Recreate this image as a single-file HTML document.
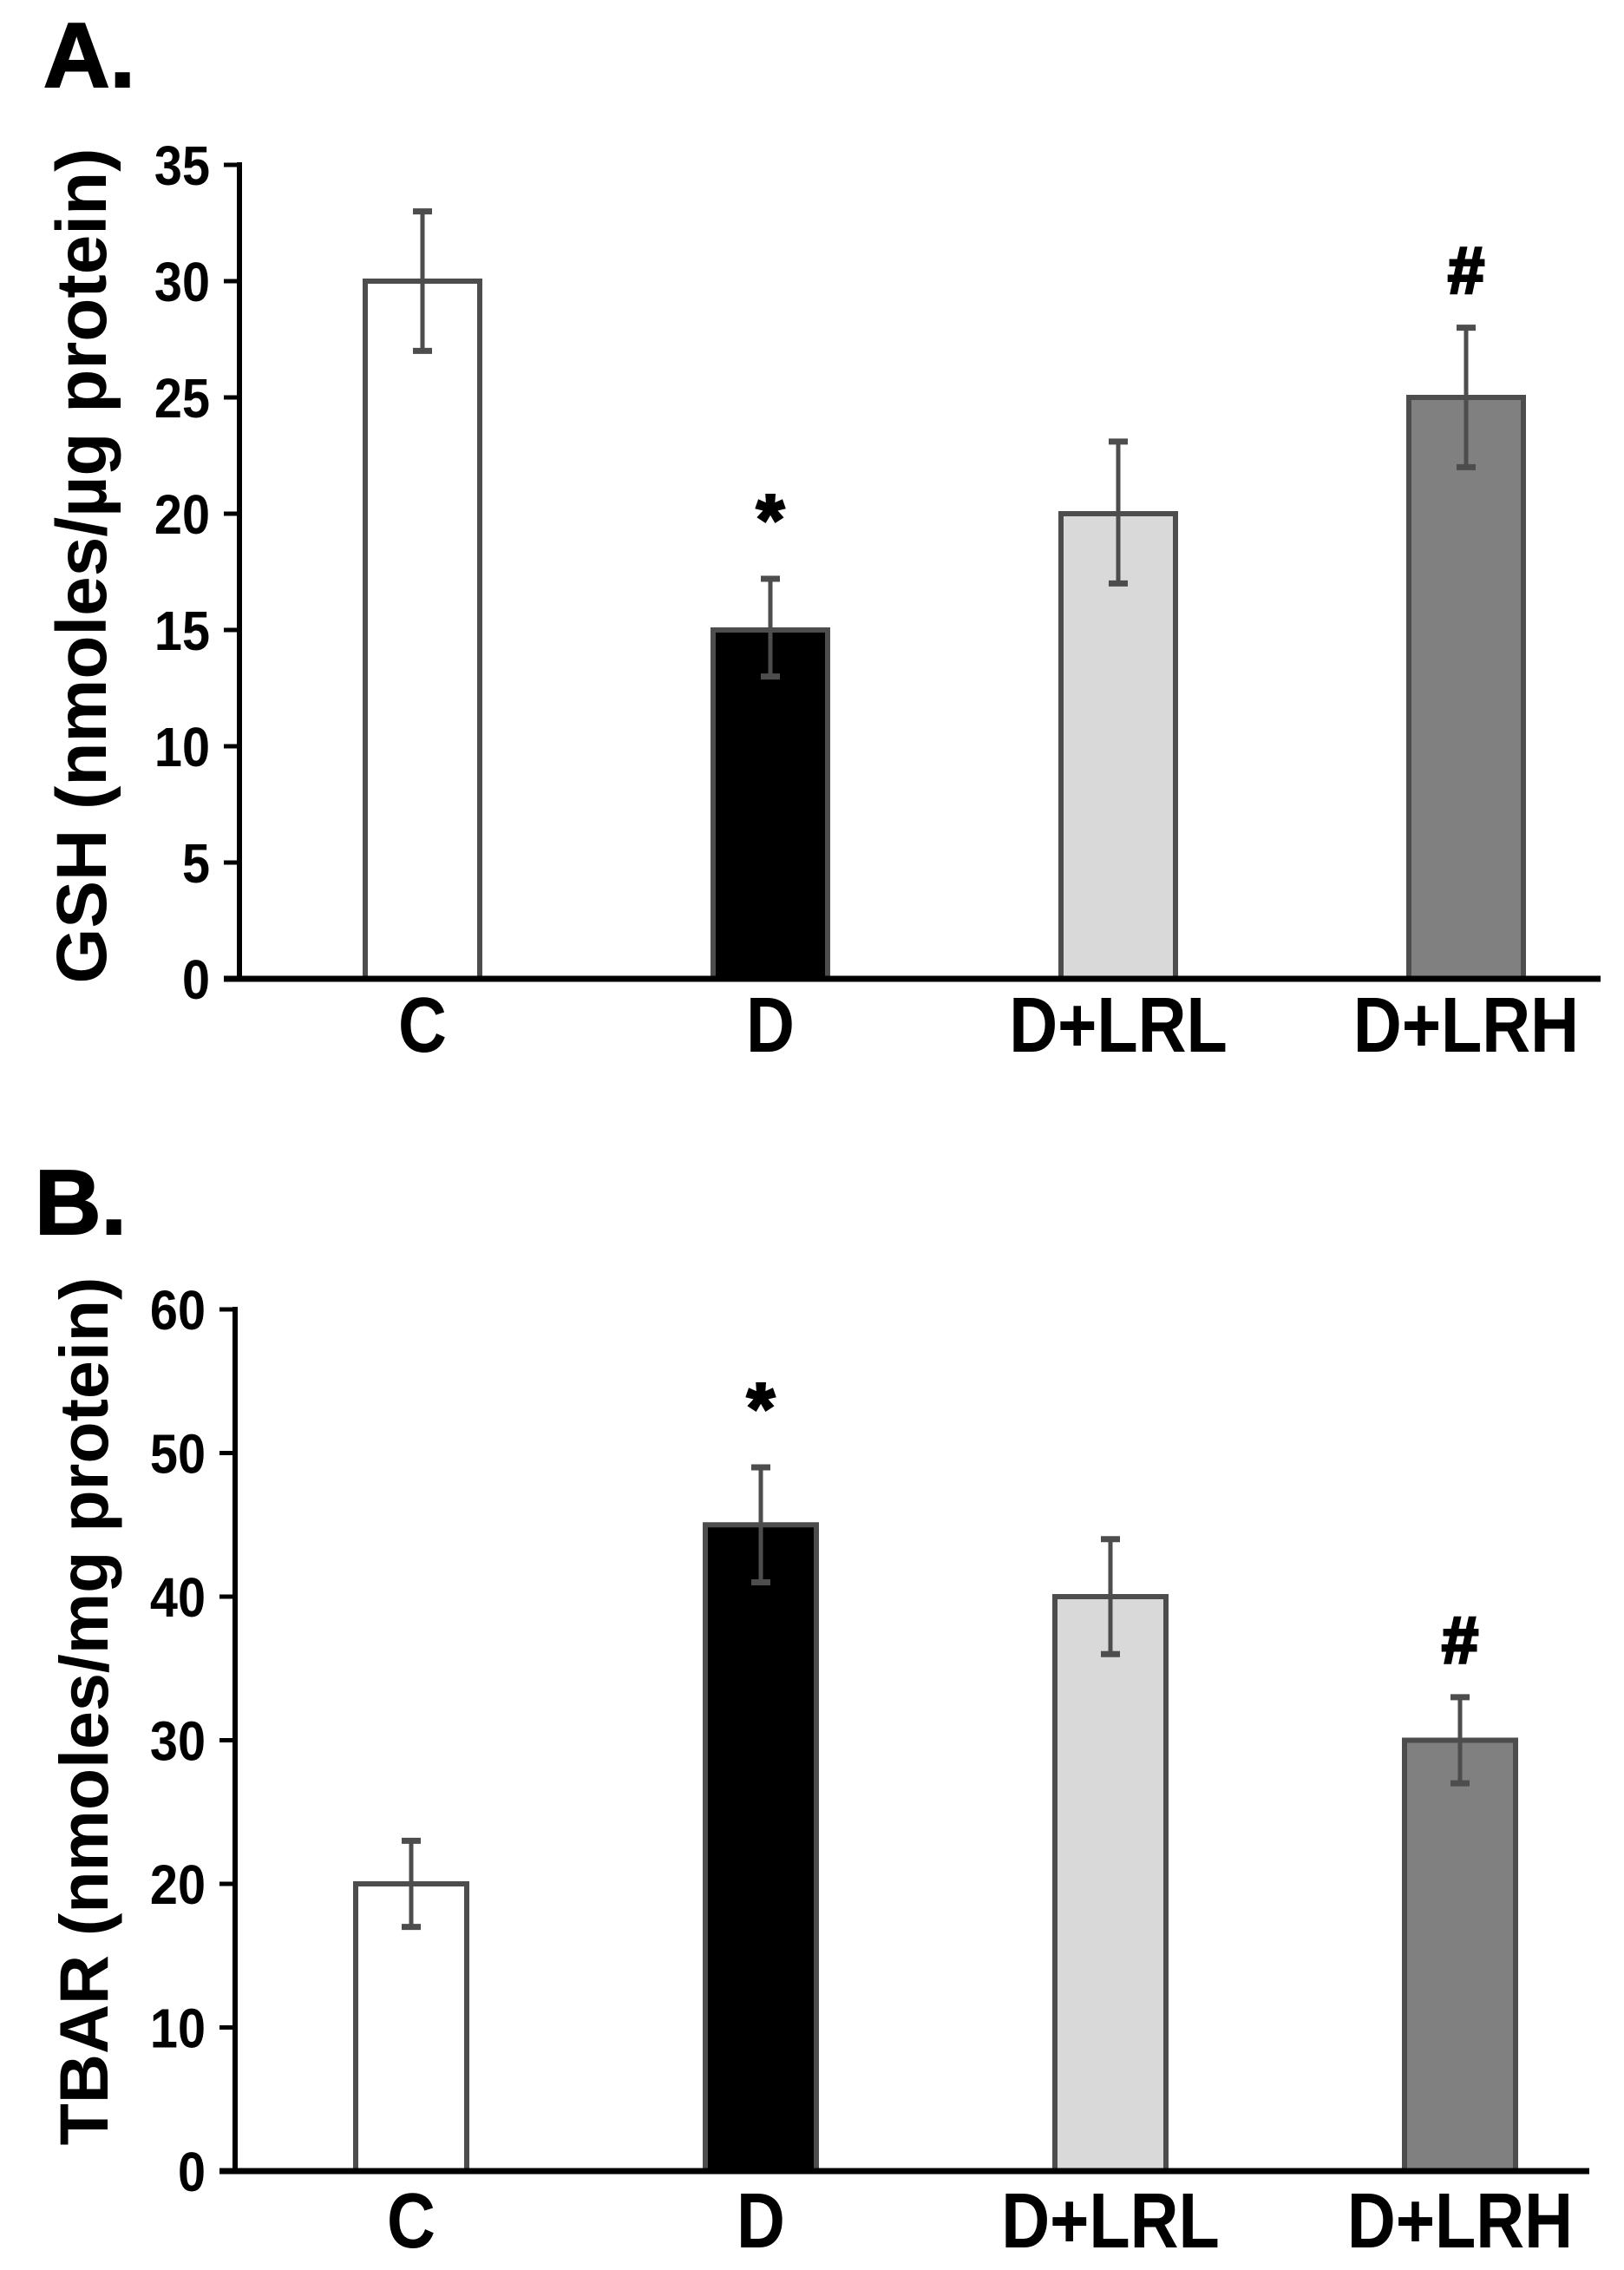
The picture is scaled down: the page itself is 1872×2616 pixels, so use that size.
<!DOCTYPE html>
<html><head><meta charset="utf-8"><style>
html,body{margin:0;padding:0;background:#fff;}
svg{display:block;font-family:"Liberation Sans",Arial,sans-serif;font-weight:bold;}
</style></head><body>
<svg id="fig" width="1872" height="2616" viewBox="0 0 1872 2616" xmlns="http://www.w3.org/2000/svg">
<rect width="1872" height="2616" fill="#fff"/>
</svg>
<script>
const categories = ["C", "D", "D+LRL", "D+LRH"];
const gshValues = [30, 15, 20, 25];
const gshErrUp = [3, 2.2, 3.1, 3];
const gshErrDown = [3, 2, 3, 3];
const gshTicks = [0, 5, 10, 15, 20, 25, 30, 35];
const gshMarks = ["", "*", "", "#"];
const tbarValues = [20, 45, 40, 30];
const tbarErrUp = [3, 4, 4, 3];
const tbarErrDown = [3, 4, 4, 3];
const tbarTicks = [0, 10, 20, 30, 40, 50, 60];
const tbarMarks = ["", "*", "", "#"];
const fills = ["#ffffff", "#000000", "#d9d9d9", "#808080"];

const NS = "http://www.w3.org/2000/svg";
const svg = document.getElementById("fig");
function mk(tag, attrs, parent, text) {
  const e = document.createElementNS(NS, tag);
  for (const k in attrs) e.setAttribute(k, attrs[k]);
  if (text !== undefined) e.textContent = text;
  (parent || svg).appendChild(e);
  return e;
}

function panel(cfg) {
  const g = mk("g", {});
  
  
  const yScale = v => cfg.y0 - (v - cfg.min) / (cfg.max - cfg.min) * (cfg.y0 - cfg.yTop);
  const xScale = i => cfg.centers0 + i * cfg.step;

  const lbl = mk("text", {x: cfg.labelX, y: cfg.labelY, "font-size": 106, stroke: "#000", "stroke-width": 2}, g, cfg.letter);
  
  

  const yt = mk("text", {transform: `translate(${cfg.titleX},${cfg.titleY}) rotate(-90)`, "text-anchor": "middle", "font-size": cfg.titleSize}, g, cfg.title);
  
  

  cfg.ticks.forEach(t => {
    const y = yScale(t);
    const tk = mk("line", {x1: cfg.axisX - 18, x2: cfg.axisX, y1: y, y2: y, stroke: "#000", "stroke-width": 5}, g);
    
    
    const ax = cfg.axisX - 34;
    const tl = mk("text", {x: ax, y: y + 23, "text-anchor": "end", "font-size": 64, transform: `translate(${ax},0) scale(0.9,1) translate(${-ax},0)`}, g, String(t));
    
    
  });

  categories.forEach((c, i) => {
    const cx = xScale(i);
    const v = cfg.values[i];
    const top = yScale(v);
    const bar = mk("rect", {x: cx - cfg.barW / 2, y: top, width: cfg.barW, height: cfg.y0 - top, fill: fills[i], stroke: "#4d4d4d", "stroke-width": 6}, g);
    
    
    const eu = yScale(v + cfg.errUp[i]);
    const ed = yScale(v - cfg.errDown[i]);
    const eb = mk("g", {stroke: "#4d4d4d", "stroke-width": 5}, g);
    
    
    mk("line", {x1: cx, x2: cx, y1: eu, y2: ed}, eb);
    mk("line", {x1: cx - 11, x2: cx + 11, y1: eu, y2: eu, "stroke-width": 7}, eb);
    mk("line", {x1: cx - 11, x2: cx + 11, y1: ed, y2: ed, "stroke-width": 7}, eb);
    if (cfg.marks[i]) {
      const m = mk("text", {x: cx, y: eu - 40, "text-anchor": "middle", "font-size": cfg.marks[i] === "#" ? 76 : 82, stroke: "#000", "stroke-width": 3}, g, cfg.marks[i]);
      
      
    }
    const cl = mk("text", {x: cx, y: cfg.catY, "text-anchor": "middle", "font-size": 90, transform: `translate(${cx},0) scale(0.86,1) translate(${-cx},0)`}, g, c);
    
    
  });

  const ya = mk("line", {x1: cfg.axisX, x2: cfg.axisX, y1: cfg.yTop - 3, y2: cfg.y0, stroke: "#000", "stroke-width": 6}, g);
  
  
  const xa = mk("line", {x1: cfg.axisX - 18, x2: cfg.xEnd, y1: cfg.y0, y2: cfg.y0, stroke: "#000", "stroke-width": 7}, g);
  
  
}

panel({name: "panel-a-gsh-chart", letter: "A.", labelX: 50, labelY: 100, title: "GSH (nmoles/\u00b5g protein)", titleX: 122, titleY: 652, titleSize: 82,
  axisX: 276, y0: 1128, yTop: 190, min: 0, max: 35, ticks: gshTicks, values: gshValues, errUp: gshErrUp, errDown: gshErrDown, marks: gshMarks,
  centers0: 487, step: 401, barW: 132, catY: 1212, xEnd: 1845});
panel({name: "panel-b-tbar-chart", letter: "B.", labelX: 40, labelY: 1422, title: "TBAR (nmoles/mg protein)", titleX: 124, titleY: 1972, titleSize: 79,
  axisX: 271, y0: 2502, yTop: 1509, min: 0, max: 60, ticks: tbarTicks, values: tbarValues, errUp: tbarErrUp, errDown: tbarErrDown, marks: tbarMarks,
  centers0: 474, step: 403, barW: 128, catY: 2590, xEnd: 1832});
</script>
</body></html>
